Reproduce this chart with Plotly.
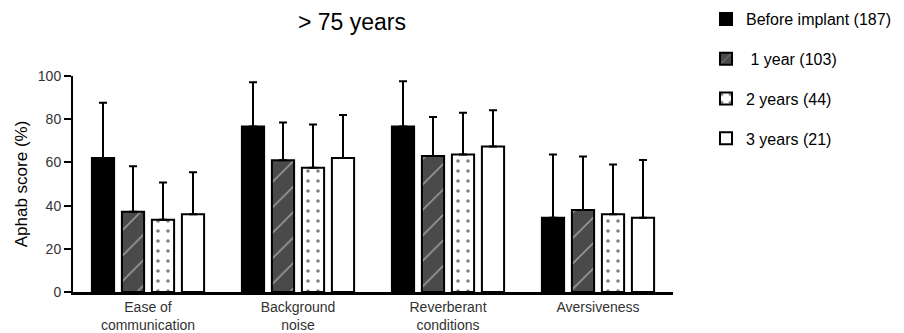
import plotly.graph_objects as go

categories = ["Ease of<br>communication", "Background<br>noise", "Reverberant<br>conditions", "Aversiveness"]
series_names = ["Before implant (187)", " 1 year (103)", "2 years (44)", "3 years (21)"]
before_mean = [62, 76.6, 76.6, 34.4]
before_sd = [25.6, 20.5, 21.0, 29.2]
year1_mean = [37.2, 61, 63, 38]
year1_sd = [21, 17.5, 18, 24.7]
year2_mean = [33.5, 57.5, 63.6, 36]
year2_sd = [17.2, 20, 19.4, 23]
year3_mean = [36, 62, 67.4, 34.4]
year3_sd = [19.4, 20, 16.8, 26.7]

means = [before_mean, year1_mean, year2_mean, year3_mean]
sds = [before_sd, year1_sd, year2_sd, year3_sd]

styles = [
    dict(color="black", pattern=dict(shape="")),
    dict(color="#4a4a4a", pattern=dict(shape="/", fgcolor="white", bgcolor="#4a4a4a", size=18, solidity=0.08, fillmode="overlay")),
    dict(color="white", pattern=dict(shape=".", fgcolor="black", bgcolor="white", size=10, solidity=0.1, fillmode="overlay")),
    dict(color="white", pattern=dict(shape="")),
]

fig = go.Figure()
for i in range(4):
    fig.add_trace(go.Bar(
        x=categories, y=means[i], name=series_names[i],
        legendgroup=f"g{i}",
        marker=dict(color=styles[i]["color"], pattern=styles[i]["pattern"],
                    line=dict(color="black", width=2)),
        error_y=dict(type="data", symmetric=False, array=sds[i],
                     arrayminus=[0] * 4, color="black", thickness=2, width=4),
    ))

# page has an 8px body margin, so the figure is 8px smaller than the window
W, H = 896, 325
font_family = "Arial, Liberation Sans, sans-serif"
fig.update_layout(
    width=W, height=H,
    margin=dict(l=65, r=231, t=68, b=41, autoexpand=False),
    paper_bgcolor="white", plot_bgcolor="white",
    barmode="group", bargap=0.2, bargroupgap=0.26,
    font=dict(family=font_family, color="black", size=14),
    title=dict(text="> 75 years", x=344 / W, xanchor="center", xref="container",
               y=1 - 14 / H, yanchor="middle", yref="container",
               font=dict(size=23, family=font_family, color="black")),
    showlegend=True,
    legend=dict(x=1.055, xanchor="left", y=1.3426, yanchor="top",
                font=dict(size=16, family=font_family), tracegroupgap=16,
                bgcolor="rgba(0,0,0,0)"),
    xaxis=dict(showline=True, linecolor="black", linewidth=3, ticks="",
               tickfont=dict(size=14, color="#333"), range=[-0.5, 3.5],
               showgrid=False, zeroline=False),
    yaxis=dict(title=dict(text="Aphab score (%)", font=dict(size=17), standoff=6),
               range=[0, 100], tickvals=[0, 20, 40, 60, 80, 100],
               showline=True, linecolor="black", linewidth=2, ticks="outside",
               ticklen=7, tickwidth=2, tickcolor="black",
               tickfont=dict(size=14, color="#333"),
               showgrid=False, zeroline=False),
)

fig.write_html("out.html")
